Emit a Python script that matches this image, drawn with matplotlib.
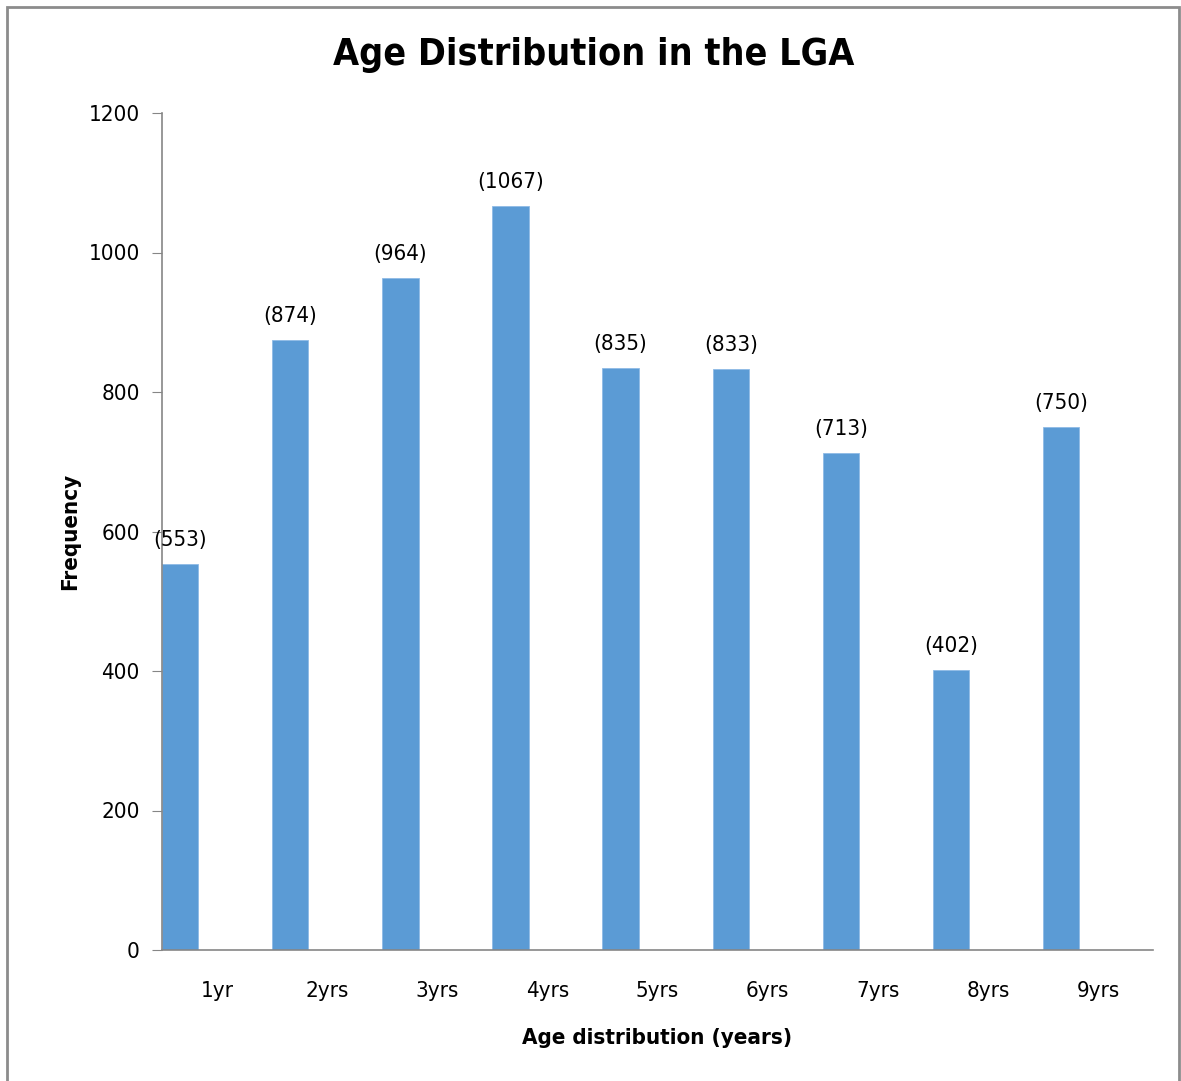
import matplotlib.pyplot as plt
from matplotlib.patches import Rectangle

ages = ["1yr", "2yrs", "3yrs", "4yrs", "5yrs", "6yrs", "7yrs", "8yrs", "9yrs"]
freq = [553, 874, 964, 1067, 835, 833, 713, 402, 750]

plt.rcParams["font.family"] = ["DejaVu Sans"]
plt.rcParams["font.stretch"] = "condensed"

fig = plt.figure(figsize=(11.81, 10.81), dpi=100)
ax = fig.add_axes([162 / 1181, 131 / 1081, (1153 - 162) / 1181, (950 - 113) / 1081])

x = list(range(len(ages)))
bars = ax.bar([i - 0.5 for i in x], freq, width=0.33, align="edge",
              color="#5B9BD5", edgecolor="#8fbbe6", linewidth=0.6)
for b, v in zip(bars, freq):
    ax.annotate("(%d)" % v, (b.get_x() + b.get_width() / 2, v),
                xytext=(0, 10), textcoords="offset points",
                ha="center", va="bottom", fontsize=16)

ax.set_xlim(-0.5, len(ages) - 0.5)
ax.set_ylim(0, 1200)
ax.set_yticks(range(0, 1201, 200))
ax.set_xticks(x)
ax.set_xticklabels(ages)
ax.tick_params(axis="x", length=0, labelsize=16, pad=22)
ax.tick_params(axis="y", length=7, color="#868686", labelsize=16, pad=9)
for s in ["top", "right"]:
    ax.spines[s].set_visible(False)
for s in ["left", "bottom"]:
    ax.spines[s].set_color("#868686")
    ax.spines[s].set_linewidth(1.2)

ax.set_xlabel("Age distribution (years)", fontsize=16, fontweight="bold", labelpad=20)
ax.set_ylabel("Frequency", fontsize=16, fontweight="bold", labelpad=6)
fig.text(594 / 1181, 1 - 55 / 1081, "Age Distribution in the LGA", ha="center", va="center",
         fontsize=27, fontweight="bold")

fig.patches.append(Rectangle((7 / 1181, -0.01), (1179 - 7) / 1181, 1.01 - 7 / 1081,
                             transform=fig.transFigure, fill=False,
                             edgecolor="#8c8c8c", linewidth=2))

fig.savefig("out.png", dpi=100)
